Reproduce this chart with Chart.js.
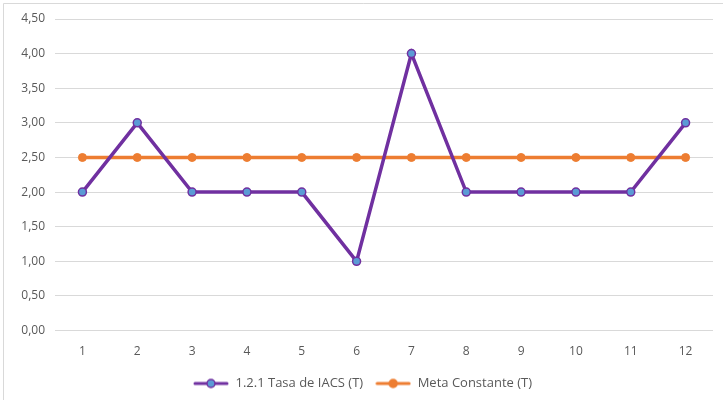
<!DOCTYPE html>
<html>
<head>
<meta charset="utf-8">
<script src="https://cdn.jsdelivr.net/npm/chart.js@4/dist/chart.umd.min.js"></script>
<style>
  html, body { margin: 0; padding: 0; background: #fff; }
  #wrap { position: relative; width: 723px; height: 400px; }
</style>
</head>
<body>
<div id="wrap"><canvas id="chart" width="723" height="400"></canvas></div>
<script>
// the categories and both series
const categories = ['1', '2', '3', '4', '5', '6', '7', '8', '9', '10', '11', '12'];
const tasaIacs = [2, 3, 2, 2, 2, 1, 4, 2, 2, 2, 2, 3];
const metaConstante = [2.5, 2.5, 2.5, 2.5, 2.5, 2.5, 2.5, 2.5, 2.5, 2.5, 2.5, 2.5];
const seriesNames = ['1.2.1 Tasa de IACS (T)', 'Meta Constante (T)'];

const purple = '#7030A0';
const blueFill = '#5B9BD5';
const orange = '#ED7D31';
const fontFamily = "'Open Sans', 'Liberation Sans', sans-serif";

// I make a little line-with-dot picture for each legend entry
function legendIcon(lineColor, dotFill) {
    const c = document.createElement('canvas');
    c.width = 36; c.height = 12;
    const ctx = c.getContext('2d');
    ctx.strokeStyle = lineColor;
    ctx.lineWidth = 3;
    ctx.lineCap = 'round';
    ctx.beginPath();
    ctx.moveTo(2, 6); ctx.lineTo(34, 6);
    ctx.stroke();
    ctx.beginPath();
    ctx.arc(18, 6, 4, 0, Math.PI * 2);
    ctx.fillStyle = dotFill;
    ctx.fill();
    ctx.lineWidth = 1.5;
    ctx.strokeStyle = lineColor;
    ctx.stroke();
    return c;
}

// thin grey frame on the top and left, like the original chart box
const framePlugin = {
    id: 'frame',
    beforeDraw(chart) {
        const ctx = chart.ctx;
        ctx.save();
        ctx.fillStyle = '#fff';
        ctx.fillRect(0, 0, chart.width, chart.height);
        ctx.strokeStyle = '#d9d9d9';
        ctx.lineWidth = 1;
        ctx.beginPath();
        ctx.moveTo(3.5, chart.height);
        ctx.lineTo(3.5, 3.5);
        ctx.lineTo(chart.width, 3.5);
        ctx.stroke();
        ctx.restore();
    }
};

new Chart(document.getElementById('chart'), {
    type: 'line',
    data: {
        labels: categories,
        datasets: [{
            label: seriesNames[0],
            data: tasaIacs,
            borderColor: purple,
            backgroundColor: blueFill,
            borderWidth: 3.5,
            pointRadius: 4,
            pointBorderWidth: 1.5,
            pointBorderColor: purple,
            pointBackgroundColor: blueFill,
            pointStyle: 'circle',
            tension: 0,
            order: 1
        }, {
            label: seriesNames[1],
            data: metaConstante,
            borderColor: orange,
            backgroundColor: orange,
            borderWidth: 3.5,
            pointRadius: 4,
            pointBorderWidth: 1,
            pointBorderColor: orange,
            pointBackgroundColor: orange,
            tension: 0,
            order: 2
        }]
    },
    options: {
        responsive: false,
        animation: false,
        layout: { padding: { top: 19, right: 10, bottom: 0, left: 12 } },
        plugins: {
            legend: {
                position: 'bottom',
                labels: {
                    usePointStyle: true,
                    pointStyleWidth: 36,
                    color: '#595959',
                    font: { family: fontFamily, size: 13 },
                    padding: 12,
                    boxHeight: 12,
                    generateLabels(chart) {
                        return chart.data.datasets.map((ds, i) => ({
                            text: ds.label,
                            fontColor: '#595959',
                            pointStyle: legendIcon(ds.borderColor, ds.pointBackgroundColor),
                            datasetIndex: i,
                            hidden: false,
                            lineWidth: 0
                        }));
                    }
                }
            },
            tooltip: { enabled: false }
        },
        scales: {
            x: {
                offset: true,
                grid: { display: false },
                border: { display: false },
                ticks: {
                    color: '#595959',
                    font: { family: fontFamily, size: 12 },
                    padding: 6
                }
            },
            y: {
                min: 0,
                max: 4.5,
                afterFit(scale) { scale.width = 43; },
                border: { display: false },
                grid: { color: '#d9d9d9', lineWidth: 1, drawTicks: false },
                ticks: {
                    stepSize: 0.5,
                    color: '#595959',
                    padding: 10,
                    font: { family: fontFamily, size: 12 },
                    callback: v => v.toFixed(2).replace('.', ',')
                }
            }
        }
    },
    plugins: [framePlugin]
});
</script>
</body>
</html>
